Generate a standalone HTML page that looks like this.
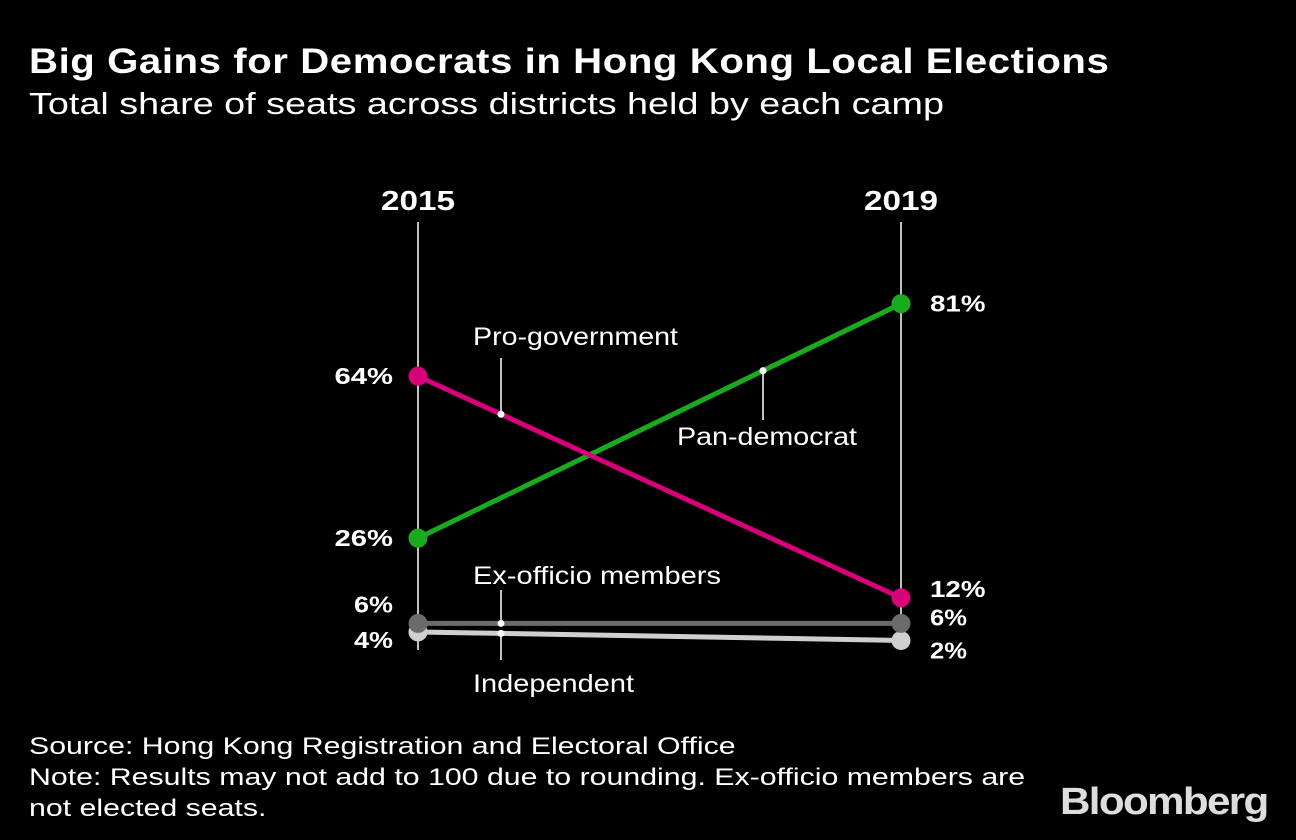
<!DOCTYPE html>
<html><head><meta charset="utf-8">
<style>
html,body{margin:0;padding:0;background:#000;width:1296px;height:840px;overflow:hidden}
body{font-family:"Liberation Sans",Arial,sans-serif;color:#fff;position:relative}
.t{position:absolute;white-space:nowrap;transform-origin:0 0}
</style></head><body>
<div class="t" style="left:29px;top:42px;font-size:35px;font-weight:bold;letter-spacing:0.5px;transform:scaleX(1.147)">Big Gains for Democrats in Hong Kong Local Elections</div>
<div class="t" style="left:29px;top:86px;font-size:31px;transform:scaleX(1.218)">Total share of seats across districts held by each camp</div>
<svg id="chart" width="1296" height="840" style="position:absolute;left:0;top:0" xmlns="http://www.w3.org/2000/svg"></svg>
<div class="t" style="left:29px;top:731px;font-size:24px;line-height:31px;color:#fff;transform:scaleX(1.262)">Source: Hong Kong Registration and Electoral Office<br>Note: Results may not add to 100 due to rounding. Ex-officio members are<br>not elected seats.</div>
<div class="t" style="left:1060px;top:781px;font-size:38px;font-weight:bold;letter-spacing:-1.5px;color:#ddd;transform:scaleX(1.11)">Bloomberg</div>
<script>
const years=["2015","2019"];
const series=["Pro-government","Pan-democrat","Ex-officio members","Independent"];
const v2015=[64,26,6,4];
const v2019=[12,81,6,2];
const labels2015=["64%","26%","6%","4%"];
const labels2019=["12%","81%","6%","2%"];
const colors=["#d6007b","#1aaa1e","#6b6b6b","#cfcfcf"];
const svg=document.getElementById('chart');
const NS='http://www.w3.org/2000/svg';
const x0=418,x1=901;
function xs(i){return i===0?x0:x1;}
function ys(v){return 649-v*4.263;}
function mk(tag,attrs,name){const e=document.createElementNS(NS,tag);for(const k in attrs)e.setAttribute(k,attrs[k]);


svg.appendChild(e);return e;}
function fit(t,len){t.setAttribute('textLength',len);t.setAttribute('lengthAdjust','spacingAndGlyphs');}
years.forEach((y,i)=>{
 mk('line',{x1:xs(i),x2:xs(i),y1:222,y2:650,stroke:'#fff','stroke-width':1.5},'axis-'+y);
 const t=mk('text',{x:xs(i)-37,y:210,fill:'#fff','font-size':28,'font-weight':'bold','font-family':'Liberation Sans'},'year-label-'+y);
 t.textContent=y;fit(t,74);
});
const order=[3,2,1,0];
order.forEach(s=>{
 mk('line',{x1:x0,y1:ys(v2015[s]),x2:x1,y2:ys(v2019[s]),stroke:colors[s],'stroke-width':5},'line-'+series[s].toLowerCase().replace(/ /g,'-'));
});
order.forEach(s=>{
 mk('circle',{cx:x0,cy:ys(v2015[s]),r:9.5,fill:colors[s]},'dot-2015-'+s);
 mk('circle',{cx:x1,cy:ys(v2019[s]),r:9.5,fill:colors[s]},'dot-2019-'+s);
});
const off15=[0,0,-19,8],off19=[-9,0,-6,10];
series.forEach((n,s)=>{
 const a=mk('text',{x:393,y:ys(v2015[s])+8+off15[s],fill:'#fff','font-size':23,'font-weight':'bold','text-anchor':'end','font-family':'Liberation Sans'},'value-2015-'+s);
 a.textContent=labels2015[s];fit(a,labels2015[s].length*19.5);
 const b=mk('text',{x:930,y:ys(v2019[s])+8+off19[s],fill:'#fff','font-size':23,'font-weight':'bold','font-family':'Liberation Sans'},'value-2019-'+s);
 b.textContent=labels2019[s];fit(b,labels2019[s].length*18.5);
});
const ann=[[0,501,473,345,358,205],[1,763,677,445,420,180],[2,501,473,584,590,248],[3,501,473,692,660,161]];
ann.forEach(([s,ax,lx,ly,ey,w])=>{
 const f=(ax-x0)/(x1-x0);
 const y=ys(v2015[s]+(v2019[s]-v2015[s])*f);
 mk('line',{x1:ax,y1:y,x2:ax,y2:ey,stroke:'#fff','stroke-width':1.5},'leader-'+s);
 mk('circle',{cx:ax,cy:y,r:3.5,fill:'#fff'},'leader-dot-'+s);
 const t=mk('text',{x:lx,y:ly,fill:'#fff','font-size':25,'font-family':'Liberation Sans'},'series-label-'+series[s].toLowerCase().replace(/ /g,'-'));
 t.textContent=series[s];fit(t,w);
});
</script>
</body></html>
